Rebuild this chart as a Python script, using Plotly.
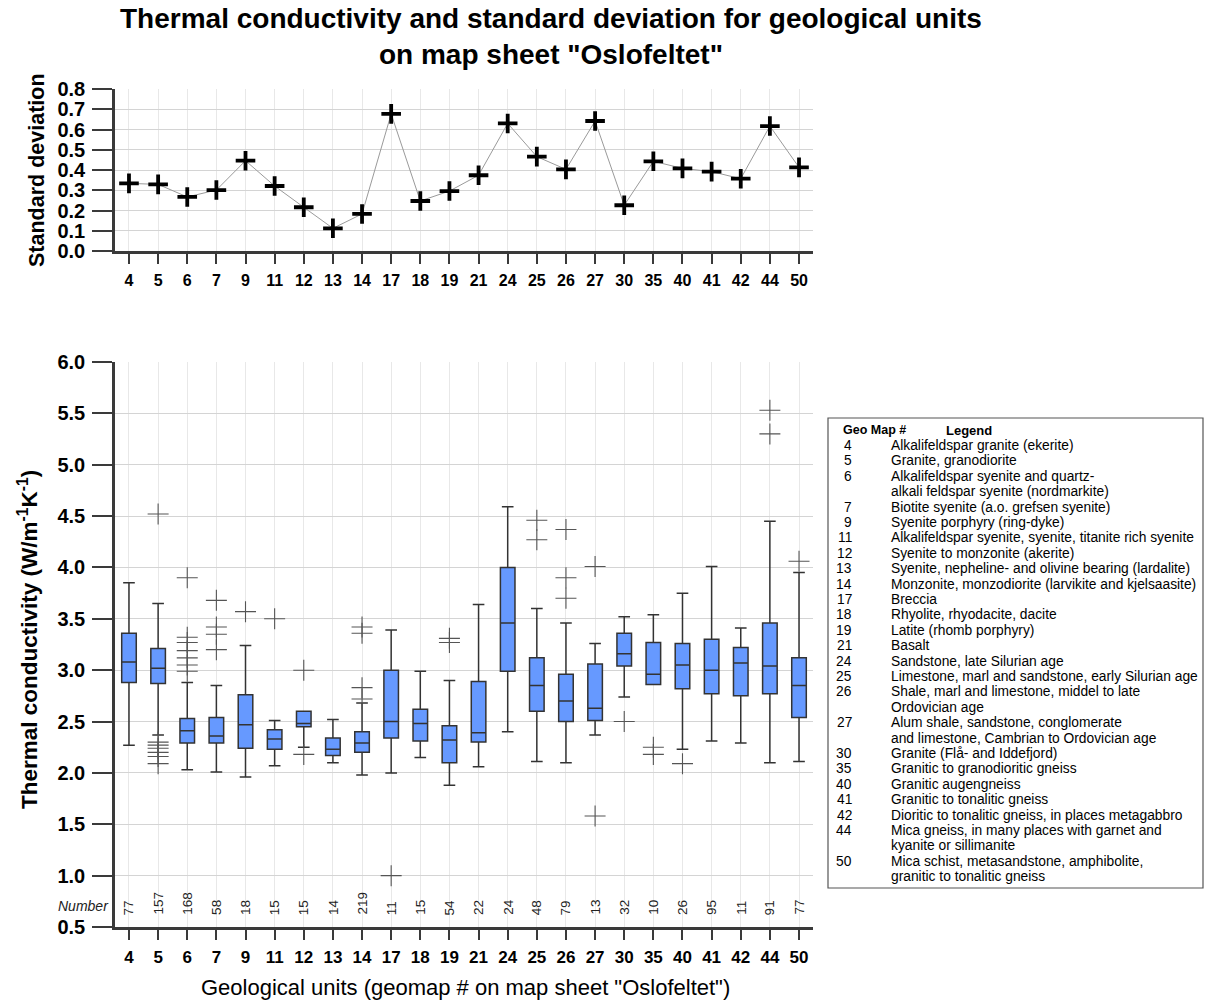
import plotly.graph_objects as go

# ---------------- data ----------------
categories = ["4", "5", "6", "7", "9", "11", "12", "13", "14", "17", "18", "19",
              "21", "24", "25", "26", "27", "30", "35", "40", "41", "42", "44", "50"]

std_dev = [0.334, 0.329, 0.267, 0.301, 0.446, 0.321, 0.216, 0.112, 0.183, 0.677,
           0.247, 0.296, 0.374, 0.630, 0.466, 0.403, 0.642, 0.226, 0.443, 0.408,
           0.392, 0.357, 0.617, 0.413]

counts = [77, 157, 168, 58, 18, 15, 15, 14, 219, 11, 15, 54,
          22, 24, 48, 79, 13, 32, 10, 26, 95, 11, 91, 77]

whisker_low = [2.27, 2.37, 2.03, 2.01, 1.96, 2.07, 2.25, 2.10, 1.98, 2.00, 2.15, 1.88,
               2.06, 2.40, 2.11, 2.10, 2.37, 2.74, 2.86, 2.23, 2.31, 2.29, 2.10, 2.11]
q1 = [2.88, 2.87, 2.29, 2.29, 2.24, 2.23, 2.45, 2.17, 2.20, 2.34, 2.31, 2.10,
      2.30, 2.99, 2.60, 2.50, 2.51, 3.04, 2.86, 2.82, 2.77, 2.75, 2.77, 2.54]
median = [3.08, 3.02, 2.41, 2.36, 2.47, 2.33, 2.48, 2.23, 2.29, 2.50, 2.48, 2.32,
          2.39, 3.46, 2.85, 2.70, 2.63, 3.16, 2.96, 3.05, 3.00, 3.07, 3.04, 2.85]
q3 = [3.36, 3.21, 2.53, 2.54, 2.76, 2.42, 2.60, 2.34, 2.40, 3.00, 2.62, 2.46,
      2.89, 4.00, 3.12, 2.96, 3.06, 3.36, 3.27, 3.26, 3.30, 3.22, 3.46, 3.12]
whisker_high = [3.85, 3.65, 2.88, 2.85, 3.24, 2.51, 2.60, 2.52, 2.68, 3.39, 2.99, 2.90,
                3.64, 4.59, 3.60, 3.46, 3.26, 3.52, 3.54, 3.75, 4.01, 3.41, 4.45, 3.95]
outliers = [
    [],
    [4.52, 2.30, 2.27, 2.24, 2.20, 2.16, 2.09],
    [3.90, 3.32, 3.27, 3.19, 3.12, 3.05, 2.99],
    [3.68, 3.42, 3.35, 3.20],
    [3.57],
    [3.50],
    [3.00, 2.18],
    [],
    [3.42, 3.36, 2.83, 2.72],
    [1.00],
    [],
    [3.31, 3.27],
    [],
    [],
    [4.46, 4.27],
    [4.37, 3.90, 3.70],
    [4.01, 1.58],
    [2.50],
    [2.25, 2.18],
    [2.09],
    [],
    [],
    [5.53, 5.30],
    [4.06],
]

legend_numbers = categories
legend_texts = [
    ["Alkalifeldspar granite (ekerite)"],
    ["Granite, granodiorite"],
    ["Alkalifeldspar syenite and quartz-", "alkali feldspar syenite (nordmarkite)"],
    ["Biotite syenite (a.o. grefsen syenite)"],
    ["Syenite porphyry (ring-dyke)"],
    ["Alkalifeldspar syenite, syenite, titanite rich syenite"],
    ["Syenite to monzonite (akerite)"],
    ["Syenite, nepheline- and olivine bearing (lardalite)"],
    ["Monzonite, monzodiorite (larvikite and kjelsaasite)"],
    ["Breccia"],
    ["Rhyolite, rhyodacite, dacite"],
    ["Latite (rhomb porphyry)"],
    ["Basalt"],
    ["Sandstone, late Silurian age"],
    ["Limestone, marl and sandstone, early Silurian age"],
    ["Shale, marl and limestone, middel to late", "Ordovician age"],
    ["Alum shale, sandstone, conglomerate", "and limestone, Cambrian to Ordovician age"],
    ["Granite (Flå- and Iddefjord)"],
    ["Granitic to granodioritic gneiss"],
    ["Granitic augengneiss"],
    ["Granitic to tonalitic gneiss"],
    ["Dioritic to tonalitic gneiss, in places metagabbro"],
    ["Mica gneiss, in many places with garnet and", "kyanite or sillimanite"],
    ["Mica schist, metasandstone, amphibolite,", "granitic to tonalitic gneiss"],
]

# ---------------- layout helpers (page pixels -> paper) ----------------
W, H = 1206, 1001


def px(X):
    return X / W


def py(Y):
    return 1 - Y / H


FONT = "Liberation Sans, Arial, sans-serif"
AXIS_COL = "#3a3a3a"

fig = go.Figure()

# top: standard deviation
fig.add_trace(go.Scatter(
    x=categories, y=std_dev, mode="lines+markers",
    line=dict(color="#9a9a9a", width=1),
    marker=dict(symbol="cross-thin", size=14, color="black",
                line=dict(color="black", width=3.8)),
    xaxis="x", yaxis="y", showlegend=False, hoverinfo="x+y"))

# bottom: box plots
fig.add_trace(go.Box(
    x=categories, q1=q1, median=median, q3=q3,
    lowerfence=whisker_low, upperfence=whisker_high,
    boxpoints=False, width=0.5, whiskerwidth=0.8,
    fillcolor="#6699ff", line=dict(color="#333333", width=1.5),
    xaxis="x2", yaxis="y2", showlegend=False))

out_x, out_y = [], []
for c, vals in zip(categories, outliers):
    for v in vals:
        out_x.append(c)
        out_y.append(v)
fig.add_trace(go.Scatter(
    x=out_x, y=out_y, mode="markers",
    marker=dict(symbol="cross-thin", size=15, color="#555555",
                line=dict(color="#555555", width=1.1)),
    xaxis="x2", yaxis="y2", showlegend=False))

n = len(categories)
xr = [-0.48, n - 1 + 0.48]

common_x = dict(type="category", range=xr, showline=True, linecolor=AXIS_COL, linewidth=2.5,
                ticks="outside", ticklen=10, tickwidth=2, tickcolor=AXIS_COL,
                showgrid=True, gridcolor="#e8e8e8", gridwidth=1, zeroline=False,
                categoryorder="array", categoryarray=categories, automargin=False,
                ticklabelstandoff=3)
common_y = dict(showline=True, linecolor=AXIS_COL, linewidth=2.5,
                ticks="outside", ticklen=20, tickwidth=2, tickcolor=AXIS_COL,
                showgrid=True, gridcolor="#d4d4d4", gridwidth=1.3, zeroline=False,
                tickformat=".1f", automargin=False, ticklabelstandoff=3)

annotations = []

# title (two lines)
annotations.append(dict(text="<b>Thermal conductivity and standard deviation for geological units"
                             "<br>on map sheet \"Oslofeltet\"</b>",
                        x=px(551), y=py(36), xref="paper", yref="paper", showarrow=False,
                        xanchor="center", yanchor="middle", align="center",
                        font=dict(family=FONT, size=28, color="black")))

# axis titles
annotations.append(dict(text="<b>Standard deviation</b>", x=px(37), y=py(170), xref="paper",
                        yref="paper", showarrow=False, textangle=-90,
                        xanchor="center", yanchor="middle",
                        font=dict(family=FONT, size=21.5, color="black")))
annotations.append(dict(text="<b>Thermal conductivity (W/m<sup>-1</sup>K<sup>-1</sup>)</b>",
                        x=px(28), y=py(640), xref="paper", yref="paper", showarrow=False,
                        textangle=-90, xanchor="center", yanchor="middle",
                        font=dict(family=FONT, size=22.5, color="black")))
annotations.append(dict(text="Geological units (geomap # on map sheet \"Oslofeltet\")",
                        x=px(465), y=py(987), xref="paper", yref="paper", showarrow=False,
                        xanchor="center", yanchor="middle",
                        font=dict(family=FONT, size=22, color="black")))

# counts
annotations.append(dict(text="<i>Number</i>", x=px(111), y=py(906), xref="paper", yref="paper",
                        showarrow=False, xanchor="right", yanchor="middle",
                        font=dict(family=FONT, size=14, color="#222222")))
for i, k in enumerate(counts):
    annotations.append(dict(text=str(k), x=i, y=py(917), xref="x2", yref="paper",
                            showarrow=False, textangle=-90, xanchor="center", yanchor="bottom",
                            font=dict(family=FONT, size=13.5, color="#222222")))

# legend box text
LEG_FS = 13.8
annotations.append(dict(text="<b>Geo Map #</b>", x=px(841), y=py(430), xref="paper", yref="paper",
                        showarrow=False, xanchor="left", yanchor="middle",
                        font=dict(family=FONT, size=12.5, color="black")))
annotations.append(dict(text="<b>Legend</b>", x=px(944), y=py(430), xref="paper", yref="paper",
                        showarrow=False, xanchor="left", yanchor="middle",
                        font=dict(family=FONT, size=13, color="black")))
line_i = 0
for num, lines in zip(legend_numbers, legend_texts):
    Y = 445.5 + 15.4 * line_i
    annotations.append(dict(text=num, x=px(854), y=py(Y), xref="paper", yref="paper",
                            showarrow=False, xanchor="right", yanchor="middle",
                            font=dict(family=FONT, size=LEG_FS, color="black")))
    for ln in lines:
        Y = 445.5 + 15.4 * line_i
        annotations.append(dict(text=ln, x=px(889), y=py(Y), xref="paper", yref="paper",
                                showarrow=False, xanchor="left", yanchor="middle",
                                font=dict(family=FONT, size=LEG_FS, color="black")))
        line_i += 1

shapes = [dict(type="rect", xref="paper", yref="paper",
               x0=px(828), x1=px(1203), y0=py(888), y1=py(418),
               line=dict(color="#555555", width=1.2), fillcolor="white", layer="below")]

fig.update_layout(
    width=W, height=H, margin=dict(l=0, r=0, t=0, b=0, pad=0, autoexpand=False),
    paper_bgcolor="white", plot_bgcolor="white",
    font=dict(family=FONT, color="black"),
    xaxis=dict(common_x, domain=[px(115), px(813)], anchor="y",
               tickfont=dict(family=FONT, size=16, color="black", weight="bold")),
    yaxis=dict(common_y, domain=[py(251), py(89)], anchor="x", range=[0, 0.8], dtick=0.1,
               tickfont=dict(family=FONT, size=20, color="black", weight="bold")),
    xaxis2=dict(common_x, domain=[px(115), px(813)], anchor="y2",
                tickfont=dict(family=FONT, size=17, color="black", weight="bold")),
    yaxis2=dict(common_y, domain=[py(927), py(362)], anchor="x2", range=[0.5, 6.0], dtick=0.5,
                tickfont=dict(family=FONT, size=20, color="black", weight="bold")),
    annotations=annotations, shapes=shapes,
)

# pin the figure to the page's top-left corner so it fills the 1206x1001 window exactly
pin = ("document.body.style.margin='0';document.body.style.overflow='hidden';"
       "var d=document.getElementById('{plot_id}');"
       "d.style.position='fixed';d.style.left='0px';d.style.top='0px';")
fig.write_html("out.html", post_script=pin, config={"displayModeBar": False})
